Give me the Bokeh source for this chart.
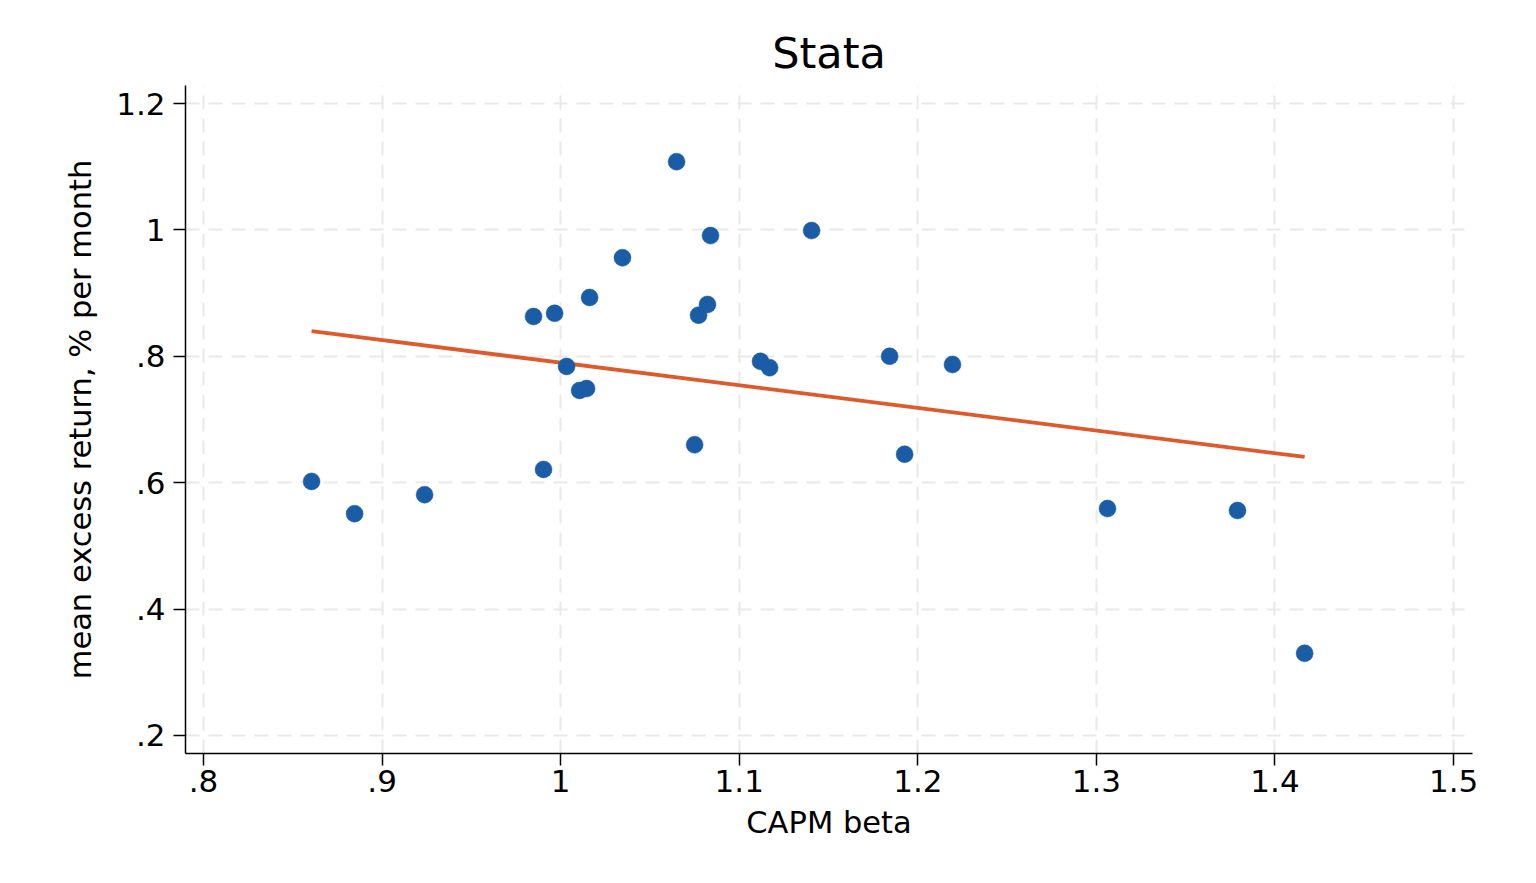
import numpy as np
from bokeh.plotting import figure
from bokeh.models import FixedTicker, Range1d
from bokeh.embed import file_html
from bokeh.resources import INLINE

# CAPM beta and mean excess return (% per month) for 25 portfolios
beta = [0.8605, 0.8846, 0.9238, 0.9848, 0.9966, 0.9904, 1.0033, 1.0106, 1.0145,
        1.0162, 1.0346, 1.0649, 1.0750, 1.0772, 1.0822, 1.0839, 1.1119, 1.1170,
        1.1405, 1.1842, 1.1926, 1.2194, 1.3062, 1.3790, 1.4166]
mean_ret = [0.602, 0.551, 0.581, 0.863, 0.868, 0.621, 0.784, 0.746, 0.749,
            0.893, 0.956, 1.108, 0.660, 0.865, 0.882, 0.991, 0.792, 0.782,
            0.999, 0.800, 0.645, 0.787, 0.559, 0.556, 0.330]

x_ticks = [0.8, 0.9, 1.0, 1.1, 1.2, 1.3, 1.4, 1.5]
x_tick_labels = [".8", ".9", "1", "1.1", "1.2", "1.3", "1.4", "1.5"]
y_ticks = [0.2, 0.4, 0.6, 0.8, 1.0, 1.2]
y_tick_labels = [".2", ".4", ".6", ".8", "1", "1.2"]

FONT = "DejaVu Sans"
BLUE = "#1a5da6"
ORANGE = "#dd5a2b"

p = figure(width=1520, height=867, output_backend="svg", toolbar_location=None,
           x_range=Range1d(0.7899, 1.5106), y_range=Range1d(0.1715, 1.2285),
           min_border_left=185, min_border_right=48, min_border_top=85,
           min_border_bottom=114, title="Stata")
p.outline_line_color = None
p.background_fill_color = "white"
p.border_fill_color = "white"

p.title.align = "center"
p.title.text_font = FONT
p.title.text_font_size = "43px"
p.title.text_font_style = "normal"
p.title.text_color = "black"
p.title.standoff = 15

# fitted line (least squares)
slope, icpt = np.polyfit(beta, mean_ret, 1)
xf = np.array([min(beta), max(beta)])
p.line(xf, icpt + slope * xf, line_color=ORANGE, line_width=3.8)

p.scatter(beta, mean_ret, size=17, fill_color=BLUE, line_color=BLUE, line_width=0.5)

p.xaxis.ticker = FixedTicker(ticks=x_ticks)
p.yaxis.ticker = FixedTicker(ticks=y_ticks)
p.xaxis.major_label_overrides = dict(zip(x_ticks, x_tick_labels))
p.yaxis.major_label_overrides = dict(zip(y_ticks, y_tick_labels))

p.xaxis.axis_label = "CAPM beta"
p.yaxis.axis_label = "mean excess return, % per month"

for ax in (p.xaxis, p.yaxis):
    ax.axis_line_color = "black"
    ax.axis_line_width = 1.5
    ax.major_tick_line_color = "black"
    ax.major_tick_line_width = 1.5
    ax.major_tick_out = 12
    ax.major_tick_in = 0
    ax.minor_tick_line_color = None
    ax.major_label_text_font = FONT
    ax.major_label_text_font_size = "31px"
    ax.major_label_text_color = "black"
    ax.axis_label_text_font = FONT
    ax.axis_label_text_font_size = "30.5px"
    ax.axis_label_text_font_style = "normal"
    ax.axis_label_text_color = "black"

p.xaxis.major_label_standoff = 4
p.yaxis.major_label_standoff = 8
p.yaxis.major_label_orientation = "horizontal"
p.xaxis.axis_label_standoff = 10
p.yaxis.axis_label_standoff = 15

for g in (p.xgrid, p.ygrid):
    g.grid_line_color = "#e9e9e9"
    g.grid_line_width = 2
    g.grid_line_dash = "14 9"

p.xgrid.ticker = FixedTicker(ticks=x_ticks)
p.ygrid.ticker = FixedTicker(ticks=y_ticks)

open("out.html", "w").write(file_html(p, INLINE))
